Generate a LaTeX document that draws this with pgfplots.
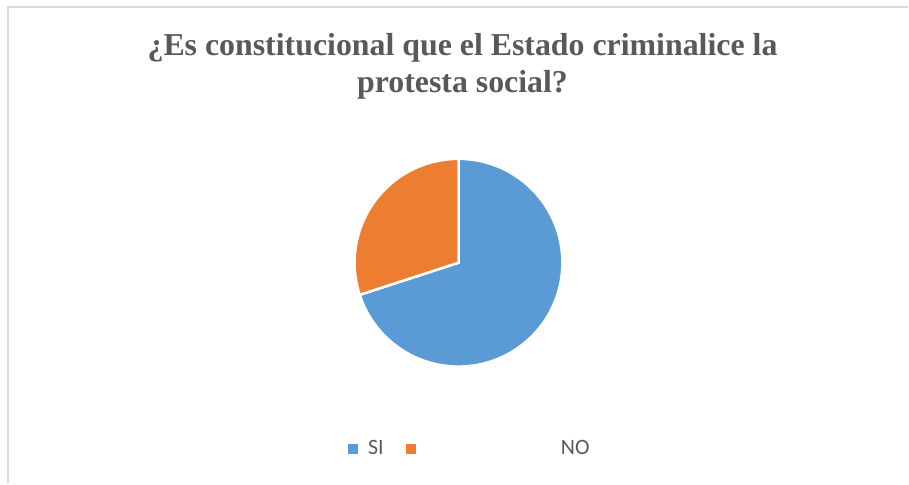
\documentclass[border=0pt]{standalone}
\usepackage{pgfplots}
\usepackage{pgfplotstable}
\pgfplotsset{compat=1.18}
\usepackage{fontspec}
\setmainfont{Liberation Serif}
\newfontfamily\calibri{Carlito}

\definecolor{siblue}{HTML}{5B9BD5}
\definecolor{noorange}{HTML}{ED7D31}
\definecolor{txtgray}{HTML}{595959}
\definecolor{framegray}{HTML}{D9D9D9}

% share of answers, percent
\pgfplotstableread{
label value
SI 70
NO 30
}\piedata

\pgfplotstablegetelem{0}{value}\of\piedata
\let\vsi\pgfplotsretval
\pgfmathsetmacro\asi{90-3.6*\vsi}

\begin{document}
\begin{tikzpicture}
\begin{axis}[
    scale only axis,
    width=909bp, height=484bp,
    xmin=0, xmax=909, ymin=0, ymax=484,
    hide axis,
    clip=false,
    legend columns=2,
    legend image code/.code={\fill[#1] (0bp,-4.5bp) rectangle (9bp,4.5bp);},
    legend style={draw=none, fill=none, inner sep=0pt,
        at={(axis cs:348,35)}, anchor=west,
        font=\calibri\fontsize{22}{26}\selectfont, text=txtgray,
        /tikz/every odd column/.append style={column sep=9bp},
        /tikz/every even column/.append style={column sep=20bp}},
]
\path (axis cs:0,0) rectangle (axis cs:909,484);
\draw[framegray, line width=2bp] (axis cs:8,0) -- (axis cs:8,477) -- (axis cs:909,477);

% title
\node[anchor=base, text=txtgray, font=\bfseries\fontsize{32}{37}\selectfont]
    at (axis cs:463,428) {¿Es constitucional que el Estado criminalice la};
\node[anchor=base, text=txtgray, font=\bfseries\fontsize{32}{37}\selectfont]
    at (axis cs:463,391) {protesta social?};

% pie
\fill[siblue, draw=white, line width=2.5bp] (axis cs:459,221) -- ++(90:104bp)
    arc[start angle=90, end angle=\asi, radius=104bp] -- cycle;
\fill[noorange, draw=white, line width=2.5bp] (axis cs:459,221) -- ++(\asi:104bp)
    arc[start angle=\asi, end angle=-270, radius=104bp] -- cycle;

\addlegendimage{siblue}
\addlegendentry{SI}
\addlegendimage{noorange}
\addlegendentry{\hspace*{135bp}NO}
\end{axis}
\end{tikzpicture}
\end{document}
